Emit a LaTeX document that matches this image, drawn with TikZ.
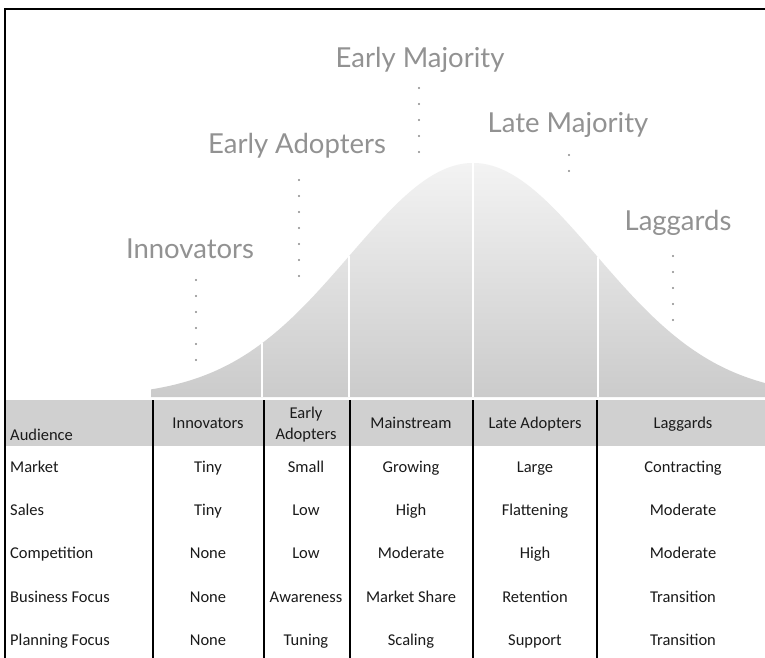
\documentclass[tikz,border=0pt]{standalone}
\usepackage{fontspec}
\setmainfont{Carlito}
\newfontfamily\labelfont{Lato}
\definecolor{hdr}{HTML}{D0D0D0}
\definecolor{curvetop}{HTML}{F3F3F3}
\definecolor{curvebot}{HTML}{CBCBCB}
\definecolor{lab}{HTML}{929292}
\definecolor{dotc}{HTML}{8A8A8A}
\definecolor{txt}{HTML}{1A1A1A}
\begin{document}
\begin{tikzpicture}[x=1pt,y=-1pt,
  cell/.style={anchor=base, font=\fontsize{16.5}{18}\selectfont, text=txt, inner sep=0pt},
  rowlab/.style={cell, anchor=base west},
  biglab/.style={anchor=base, font=\labelfont\fontsize{27.5}{30}\selectfont, text=lab, inner sep=0pt},
  leader/.style={draw=dotc, line width=2.4pt, line cap=round, dash pattern=on 0pt off 16pt},
  colline/.style={draw=black, line width=1.8pt},
  splitline/.style={draw=white, line width=1.8pt}]
\useasboundingbox (0,0) rectangle (765,658);
\fill[white] (0,0) rectangle (765,658);

% bell curve
\path[top color=curvetop, bottom color=curvebot]
  (151,397) -- (151,389) -- plot[domain=151:765,samples=140] (\x,{397-234*exp(-0.5*((\x-473)/123)^2)}) -- (765,397) -- cycle;
\foreach \sx in {262,349,473,598}
  \draw[splitline] (\sx,397) -- (\sx,{397-234*exp(-0.5*((\sx-473)/123)^2)});
\draw[draw=white, line width=1pt, opacity=0.6] (473,163) -- (473,150);

% header band
\fill[hdr] (5,400) rectangle (765,446);

% column lines
\foreach \cx in {153,264,350,473,597}
  \draw[colline] (\cx,400) -- (\cx,658);

% frame
\draw[line width=2pt, draw=black] (5,658) -- (5,9) -- (765,9);

% big labels
\node[biglab] (lEM) at (420,68) {Early Majority};
\node[biglab] (lEA) at (297,153) {Early Adopters};
\node[biglab] (lLM) at (568,132) {Late Majority};
\node[biglab] (lIN) at (190,258) {Innovators};
\node[biglab] (lLG) at (678,230) {Laggards};

% leaders
\coordinate (dEMa) at (419,88);  \coordinate (dEMb) at (419,152);
\coordinate (dEAa) at (299,180); \coordinate (dEAb) at (299,292);
\coordinate (dLMa) at (569,155); \coordinate (dLMb) at (569,187);
\coordinate (dINa) at (196,280); \coordinate (dINb) at (196,360);
\coordinate (dLGa) at (673,256); \coordinate (dLGb) at (673,320);
\draw[leader] (dEMa) -- (dEMb);
\draw[leader] (dEAa) -- (dEAb);
\draw[leader] (dLMa) -- (dLMb);
\draw[leader] (dINa) -- (dINb);
\draw[leader] (dLGa) -- (dLGb);

% header row
\node[rowlab] (hAud) at (10,440) {Audience};
\node[cell] (hInn) at (208,428) {Innovators};
\node[cell] (hEA1) at (306,418) {Early};
\node[cell] (hEA2) at (306,439) {Adopters};
\node[cell] (hMain) at (411,428) {Mainstream};
\node[cell] (hLate) at (535,428) {Late Adopters};
\node[cell] (hLag) at (683,428) {Laggards};

% rows
\node[rowlab] (rMk) at (10,472) {Market};
\node[cell] (c11) at (208,472) {Tiny};
\node[cell] (c12) at (306,472) {Small};
\node[cell] (c13) at (411,472) {Growing};
\node[cell] (c14) at (535,472) {Large};
\node[cell] (c15) at (683,472) {Contracting};

\node[rowlab] (rSa) at (10,515) {Sales};
\node[cell] (c21) at (208,515) {Tiny};
\node[cell] (c22) at (306,515) {Low};
\node[cell] (c23) at (411,515) {High};
\node[cell] (c24) at (535,515) {Flattening};
\node[cell] (c25) at (683,515) {Moderate};

\node[rowlab] (rCo) at (10,558) {Competition};
\node[cell] (c31) at (208,558) {None};
\node[cell] (c32) at (306,558) {Low};
\node[cell] (c33) at (411,558) {Moderate};
\node[cell] (c34) at (535,558) {High};
\node[cell] (c35) at (683,558) {Moderate};

\node[rowlab] (rBF) at (10,602) {Business Focus};
\node[cell] (c41) at (208,602) {None};
\node[cell] (c42) at (306,602) {Awareness};
\node[cell] (c43) at (411,602) {Market Share};
\node[cell] (c44) at (535,602) {Retention};
\node[cell] (c45) at (683,602) {Transition};

\node[rowlab] (rPF) at (10,645) {Planning Focus};
\node[cell] (c51) at (208,645) {None};
\node[cell] (c52) at (306,645) {Tuning};
\node[cell] (c53) at (411,645) {Scaling};
\node[cell] (c54) at (535,645) {Support};
\node[cell] (c55) at (683,645) {Transition};
\end{tikzpicture}
\end{document}
